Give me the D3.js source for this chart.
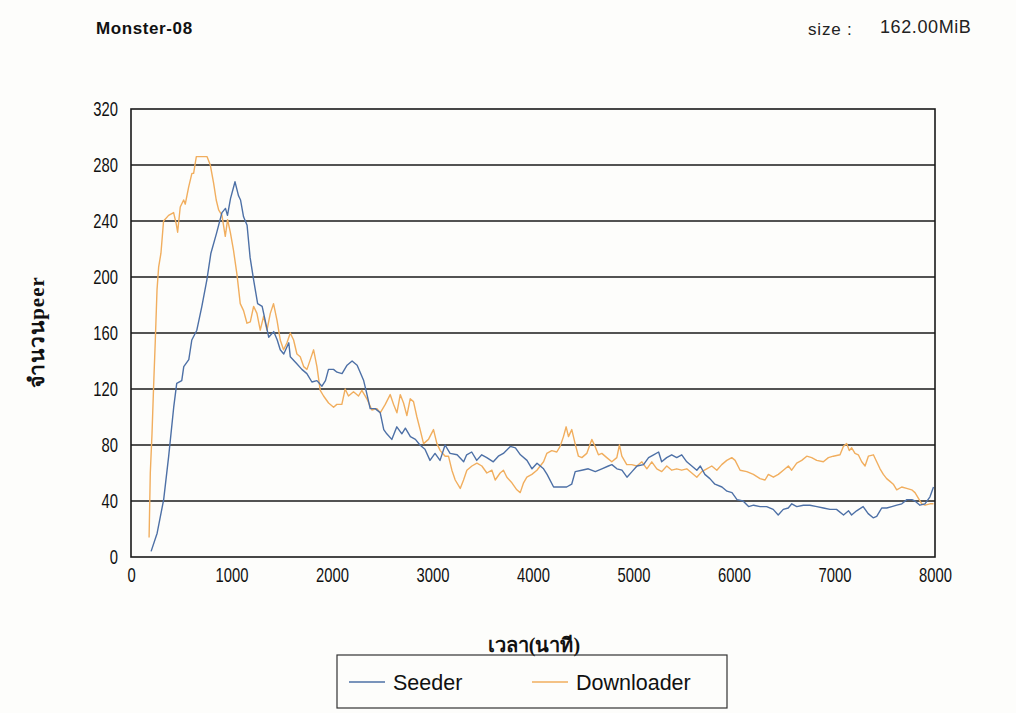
<!DOCTYPE html>
<html>
<head>
<meta charset="utf-8">
<script src="https://cdn.jsdelivr.net/npm/d3@7"></script>
<style>
  html, body { margin: 0; padding: 0; background: #fdfdfb; }
  svg { display: block; }
  .tick text { font-family: "Liberation Sans", Arial, sans-serif; font-size: 20px; fill: #111; }
</style>
</head>
<body>
<svg id="chart" width="1016" height="713"></svg>
<script>
// Torrent swarm size over time: seeders vs downloaders
const chartTitle = "Monster-08";
const sizeLabel = "size :";
const sizeValue = "162.00MiB";
const xTitle = "เวลา(นาที)";
const yTitle = "จำนวนpeer";
const seriesNames = ["Seeder", "Downloader"];

const xTicks = [0, 1000, 2000, 3000, 4000, 5000, 6000, 7000, 8000];
const yTicks = [0, 40, 80, 120, 160, 200, 240, 280, 320];

const seederTime = [200, 260, 325, 375, 425, 455, 505, 525, 575, 605, 655, 705, 755, 795, 850, 905, 940, 960, 990, 1035, 1070, 1090, 1120, 1155, 1185, 1220, 1260, 1305, 1335, 1370, 1420, 1455, 1485, 1520, 1570, 1585, 1650, 1700, 1750, 1800, 1850, 1900, 1935, 1965, 2015, 2050, 2100, 2150, 2200, 2250, 2280, 2315, 2345, 2380, 2430, 2480, 2515, 2545, 2595, 2645, 2695, 2730, 2780, 2830, 2875, 2925, 2975, 3025, 3075, 3125, 3175, 3245, 3310, 3340, 3390, 3440, 3490, 3540, 3605, 3655, 3705, 3775, 3825, 3875, 3940, 3990, 4040, 4105, 4140, 4205, 4270, 4335, 4385, 4420, 4485, 4550, 4620, 4685, 4750, 4785, 4835, 4885, 4935, 4985, 5035, 5100, 5150, 5200, 5250, 5280, 5330, 5380, 5430, 5480, 5530, 5580, 5630, 5665, 5710, 5760, 5810, 5880, 5930, 5980, 6030, 6090, 6145, 6195, 6260, 6325, 6390, 6440, 6490, 6540, 6575, 6625, 6690, 6755, 6825, 6890, 6955, 7020, 7090, 7140, 7170, 7220, 7285, 7335, 7385, 7420, 7470, 7520, 7570, 7620, 7670, 7720, 7770, 7800, 7850, 7900, 7950, 7985];
const seederPeers = [4, 17, 41, 72, 107, 124, 126, 136, 141, 155, 162, 179, 198, 217, 231, 246, 249, 244, 256, 268, 258, 255, 243, 237, 214, 198, 181, 179, 169, 157, 161, 155, 148, 145, 153, 143, 138, 134, 131, 125, 126, 122, 126, 134, 134, 132, 131, 137, 140, 137, 132, 126, 117, 106, 106, 103, 91, 88, 84, 93, 88, 92, 86, 84, 80, 77, 69, 74, 69, 80, 74, 73, 68, 73, 75, 69, 73, 71, 68, 72, 74, 79, 78, 73, 69, 63, 67, 63, 59, 50, 50, 50, 52, 61, 62, 63, 61, 63, 65, 66, 63, 62, 57, 61, 65, 66, 71, 73, 75, 68, 71, 73, 71, 73, 68, 65, 62, 65, 59, 56, 52, 50, 47, 46, 41, 40, 36, 37, 36, 36, 34, 30, 34, 35, 38, 36, 37, 37, 36, 35, 34, 34, 30, 33, 30, 33, 36, 31, 28, 29, 35, 35, 36, 37, 38, 41, 41, 40, 37, 38, 43, 50];

const downloaderTime = [180, 192, 209, 225, 242, 259, 275, 298, 324, 374, 424, 450, 464, 490, 524, 540, 573, 606, 623, 650, 706, 756, 789, 822, 848, 872, 905, 938, 961, 988, 1020, 1054, 1087, 1120, 1154, 1187, 1220, 1253, 1286, 1320, 1353, 1386, 1418, 1453, 1485, 1518, 1552, 1585, 1618, 1651, 1684, 1718, 1751, 1784, 1817, 1850, 1883, 1916, 1966, 2016, 2048, 2098, 2131, 2164, 2214, 2264, 2297, 2347, 2397, 2447, 2480, 2530, 2579, 2613, 2646, 2679, 2712, 2745, 2778, 2811, 2845, 2877, 2911, 2960, 3010, 3044, 3077, 3126, 3159, 3193, 3226, 3276, 3309, 3342, 3392, 3442, 3491, 3541, 3591, 3624, 3673, 3706, 3740, 3790, 3839, 3873, 3906, 3939, 3989, 4039, 4105, 4137, 4187, 4237, 4270, 4303, 4330, 4353, 4386, 4419, 4452, 4486, 4535, 4585, 4618, 4651, 4685, 4734, 4784, 4834, 4860, 4884, 4933, 4983, 5033, 5083, 5133, 5182, 5232, 5281, 5331, 5381, 5430, 5480, 5530, 5580, 5630, 5679, 5729, 5779, 5829, 5878, 5928, 5978, 6011, 6061, 6127, 6193, 6259, 6309, 6342, 6392, 6441, 6491, 6541, 6574, 6624, 6674, 6724, 6773, 6823, 6889, 6939, 6988, 7055, 7088, 7121, 7147, 7171, 7204, 7237, 7271, 7304, 7337, 7387, 7420, 7453, 7486, 7519, 7552, 7585, 7619, 7669, 7718, 7768, 7801, 7834, 7868, 7901, 7950, 7985];
const downloaderPeers = [14, 60, 88, 122, 155, 191, 207, 217, 240, 244, 246, 238, 232, 250, 255, 252, 264, 274, 274, 286, 286, 286, 280, 267, 255, 248, 244, 229, 241, 232, 219, 202, 181, 176, 167, 168, 179, 174, 162, 172, 162, 174, 181, 169, 155, 148, 153, 160, 155, 145, 143, 136, 134, 141, 148, 136, 119, 115, 110, 107, 109, 109, 120, 115, 118, 115, 119, 113, 105, 106, 103, 109, 116, 109, 103, 116, 110, 101, 113, 111, 100, 91, 81, 84, 91, 81, 76, 72, 72, 62, 55, 49, 55, 62, 65, 67, 65, 60, 62, 55, 60, 62, 57, 53, 48, 46, 53, 57, 59, 62, 68, 74, 76, 75, 79, 86, 93, 86, 91, 81, 72, 71, 74, 84, 79, 73, 74, 71, 68, 71, 80, 72, 66, 66, 65, 68, 63, 68, 63, 61, 65, 62, 63, 62, 63, 60, 57, 61, 63, 65, 62, 66, 69, 71, 69, 62, 61, 59, 56, 55, 59, 57, 59, 62, 65, 62, 67, 69, 72, 71, 69, 68, 71, 72, 73, 79, 81, 76, 78, 74, 73, 68, 65, 72, 73, 68, 63, 59, 56, 54, 52, 48, 50, 49, 48, 46, 42, 38, 37, 38, 38];

const seriesColors = ["#4d70a6", "#f1ae5e"];

const svg = d3.select("#chart");
const plot = { left: 131, right: 935, top: 109, bottom: 557 };

const x = d3.scaleLinear().domain([0, 8000]).range([plot.left, plot.right]);
const y = d3.scaleLinear().domain([0, 320]).range([plot.bottom, plot.top]);

// Horizontal gridlines
svg.append("g")
  .selectAll("line")
  .data(yTicks.filter(v => v > 0 && v < 320))
  .join("line")
  .attr("x1", plot.left).attr("x2", plot.right)
  .attr("y1", d => y(d)).attr("y2", d => y(d))
  .attr("stroke", "#1a1a1a").attr("stroke-width", 1.6);

// Axes (labels only, no tick marks); digits drawn condensed
const squeeze = 0.74;
const xAxis = svg.append("g")
  .attr("transform", `translate(0,${plot.bottom})`)
  .call(d3.axisBottom(x).tickValues(xTicks).tickSize(0).tickPadding(11).tickFormat(d3.format("d")));
xAxis.select(".domain").remove();
xAxis.selectAll(".tick text").attr("transform", `scale(${squeeze},1)`);

const yAxis = svg.append("g")
  .attr("transform", `translate(${plot.left},0)`)
  .call(d3.axisLeft(y).tickValues(yTicks).tickSize(0).tickFormat(d3.format("d")));
yAxis.select(".domain").remove();
yAxis.selectAll(".tick text").attr("x", 0).attr("transform", `translate(-13,0) scale(${squeeze},1)`);

// Series lines
const line = d3.line().x(d => x(d[0])).y(d => y(d[1]));
const seederData = d3.zip(seederTime, seederPeers);
const downloaderData = d3.zip(downloaderTime, downloaderPeers);

svg.append("path")
  .datum(downloaderData)
  .attr("d", line)
  .attr("fill", "none")
  .attr("stroke", seriesColors[1])
  .attr("stroke-width", 1.4)
  .attr("stroke-linejoin", "round");

svg.append("path")
  .datum(seederData)
  .attr("d", line)
  .attr("fill", "none")
  .attr("stroke", seriesColors[0])
  .attr("stroke-width", 1.4)
  .attr("stroke-linejoin", "round");

// Plot frame
svg.append("rect")
  .attr("x", plot.left).attr("y", plot.top)
  .attr("width", plot.right - plot.left).attr("height", plot.bottom - plot.top)
  .attr("fill", "none").attr("stroke", "#1a1a1a").attr("stroke-width", 1.6);

// Header texts
svg.append("text")
  .attr("x", 96).attr("y", 34)
  .attr("font-family", "Liberation Sans, Arial, sans-serif")
  .attr("font-size", 17).attr("font-weight", "bold").attr("fill", "#111")
  .attr("letter-spacing", 0.6)
  .text(chartTitle);

svg.append("text")
  .attr("x", 808).attr("y", 35)
  .attr("font-family", "Liberation Sans, Arial, sans-serif")
  .attr("font-size", 17).attr("fill", "#222")
  .attr("letter-spacing", 0.8)
  .text(sizeLabel);

svg.append("text")
  .attr("x", 880).attr("y", 33)
  .attr("font-family", "Liberation Sans, Arial, sans-serif")
  .attr("font-size", 18).attr("fill", "#222")
  .attr("letter-spacing", 0.6)
  .text(sizeValue);

// Axis titles
svg.append("text")
  .attr("transform", "translate(44,332) rotate(-90)")
  .attr("text-anchor", "middle")
  .attr("font-family", "Liberation Serif, 'Noto Sans', serif")
  .attr("font-size", 21).attr("font-weight", "bold").attr("fill", "#111")
  .attr("letter-spacing", 1)
  .text(yTitle);

svg.append("text")
  .attr("x", 534).attr("y", 652)
  .attr("text-anchor", "middle")
  .attr("font-family", "Liberation Serif, 'Noto Sans', serif")
  .attr("font-size", 20).attr("font-weight", "bold").attr("fill", "#111")
  .text(xTitle);

// Legend
const legend = svg.append("g");
legend.append("rect")
  .attr("x", 337).attr("y", 655).attr("width", 390).attr("height", 53)
  .attr("fill", "none").attr("stroke", "#333").attr("stroke-width", 1.2);

const legendItems = [
  { name: seriesNames[0], color: seriesColors[0], x0: 349 },
  { name: seriesNames[1], color: seriesColors[1], x0: 532 }
];
legendItems.forEach(it => {
  legend.append("line")
    .attr("x1", it.x0).attr("x2", it.x0 + 36)
    .attr("y1", 682).attr("y2", 682)
    .attr("stroke", it.color).attr("stroke-width", 1.4);
  legend.append("text")
    .attr("x", it.x0 + 44).attr("y", 690)
    .attr("font-family", "Liberation Sans, Arial, sans-serif")
    .attr("font-size", 21.5).attr("fill", "#111")
    .text(it.name);
});
</script>
</body>
</html>
